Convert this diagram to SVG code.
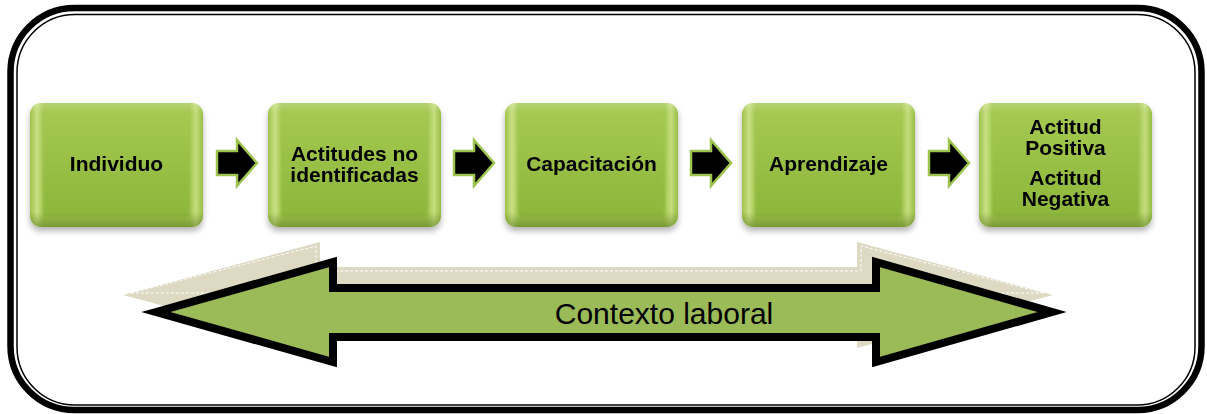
<svg xmlns="http://www.w3.org/2000/svg" width="1207" height="414" viewBox="0 0 1207 414">
  <defs>
    <linearGradient id="edgeFill" x1="0" y1="0" x2="1" y2="0">
      <stop offset="0" stop-color="#9FC24C"/>
      <stop offset="0.04" stop-color="#C8E082"/>
      <stop offset="0.08" stop-color="#A3C750"/>
      <stop offset="0.92" stop-color="#A3C750"/>
      <stop offset="0.96" stop-color="#C3DD7C"/>
      <stop offset="1" stop-color="#98BD46"/>
    </linearGradient>
    <linearGradient id="shade" x1="0" y1="0" x2="0" y2="1">
      <stop offset="0" stop-color="#FFFFFF" stop-opacity="0.2"/>
      <stop offset="0.08" stop-color="#FFFFFF" stop-opacity="0"/>
      <stop offset="0.88" stop-color="#4A6A14" stop-opacity="0"/>
      <stop offset="1" stop-color="#4A6A14" stop-opacity="0.5"/>
    </linearGradient>
    <linearGradient id="faceFill" x1="0" y1="0" x2="0" y2="1">
      <stop offset="0" stop-color="#A6C952"/>
      <stop offset="0.5" stop-color="#98BF45"/>
      <stop offset="1" stop-color="#8DB63C"/>
    </linearGradient>
    <filter id="dropShadow" x="-10%" y="-10%" width="120%" height="130%">
      <feGaussianBlur in="SourceAlpha" stdDeviation="3"/>
      <feOffset dx="0" dy="4" result="b"/>
      <feComponentTransfer><feFuncA type="linear" slope="0.3"/></feComponentTransfer>
      <feMerge><feMergeNode/><feMergeNode in="SourceGraphic"/></feMerge>
    </filter>
    <filter id="soft" x="-5%" y="-5%" width="110%" height="110%">
      <feGaussianBlur stdDeviation="1.5"/>
    </filter>
    <g id="box">
      <rect x="0" y="0" width="173" height="124" rx="11" fill="url(#edgeFill)"/>
      <rect x="13" y="8" width="147" height="106" rx="5" fill="url(#faceFill)" filter="url(#soft)"/>
      <rect x="0" y="0" width="173" height="124" rx="11" fill="url(#shade)"/>
    </g>
    <path id="step" d="M0,11 H20 V0 L40,23 L20,46 V35 H0 Z"/>
  </defs>
  <style>
    .label { font-family: "Liberation Sans", Arial, sans-serif; font-weight: bold; font-size: 21px; fill: #000; text-anchor: middle; }
    .step { fill: #000; stroke: #9CC44E; stroke-width: 2.5; stroke-linejoin: miter; }
    .ctx { font-family: "Liberation Sans", Arial, sans-serif; font-size: 30px; fill: #000; text-anchor: middle; }
  </style>

  <!-- double rounded frame -->
  <g id="frame" fill="none" stroke="#000">
    <rect x="10.5" y="8" width="1191" height="402" rx="64" stroke-width="6.5"/>
    <rect x="17" y="14.5" width="1178" height="390.5" rx="58" stroke-width="1.5"/>
  </g>

  <!-- context band: offset beige plate behind the double arrow -->
  <g id="contexto">
    <polygon points="123,295 320,242 320,267 857,267 857,242 1053,295 857,348 857,323 320,323 320,348" fill="#DDD9C3"/>
    <polygon points="131,293 316,246 316,271 861,271 861,246 1044,293" fill="none" stroke="#FFFFFF" stroke-width="1" stroke-dasharray="3,2"/>
    <polygon points="156,312 333,262 333,288 876,288 876,262 1052,312 876,362 876,337 333,337 333,362" fill="#9BBB59" stroke="#000" stroke-width="8" stroke-linejoin="miter" stroke-miterlimit="10"/>
    <text class="ctx" x="664" y="324">Contexto laboral</text>
  </g>

  <!-- process steps -->
  <g id="n1" filter="url(#dropShadow)">
    <use href="#box" x="30" y="103"/>
    <text class="label" x="116.5" y="171">Individuo</text>
  </g>
  <g id="n2" filter="url(#dropShadow)">
    <use href="#box" x="268" y="103"/>
    <text class="label" x="354.5" y="161">Actitudes no</text>
    <text class="label" x="354.5" y="182">identificadas</text>
  </g>
  <g id="n3" filter="url(#dropShadow)">
    <use href="#box" x="505" y="103"/>
    <text class="label" x="591.5" y="171">Capacitación</text>
  </g>
  <g id="n4" filter="url(#dropShadow)">
    <use href="#box" x="742" y="103"/>
    <text class="label" x="828.5" y="171">Aprendizaje</text>
  </g>
  <g id="n5" filter="url(#dropShadow)">
    <use href="#box" x="979" y="103"/>
    <text class="label" x="1065.5" y="134">Actitud</text>
    <text class="label" x="1065.5" y="155">Positiva</text>
    <text class="label" x="1065.5" y="185">Actitud</text>
    <text class="label" x="1065.5" y="206">Negativa</text>
  </g>

  <!-- connectors between steps -->
  <g id="connectors">
    <use href="#step" class="step" x="217" y="140"/>
    <use href="#step" class="step" x="454" y="140"/>
    <use href="#step" class="step" x="691" y="140"/>
    <use href="#step" class="step" x="929" y="140"/>
  </g>
</svg>
